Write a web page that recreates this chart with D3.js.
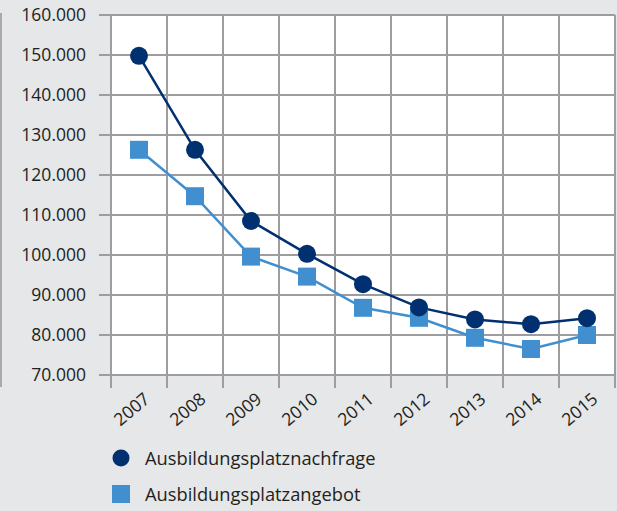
<!DOCTYPE html>
<html><head><meta charset="utf-8">
<script src="https://cdn.jsdelivr.net/npm/d3@7"></script>
<style>
html,body{margin:0;padding:0;background:#e6e7e9;}
svg{display:block;}
text{font-family:"Open Sans",sans-serif;fill:#231f20;}
</style></head>
<body>
<svg id="chart" width="617" height="511"></svg>
<script>
const years = ["2007","2008","2009","2010","2011","2012","2013","2014","2015"];
const nachfrage = [149800, 126300, 108500, 100300, 92700, 86900, 83900, 82700, 84200];
const angebot = [126300, 114700, 99600, 94600, 86800, 84300, 79300, 76500, 80000];
const yTicks = [70000, 80000, 90000, 100000, 110000, 120000, 130000, 140000, 150000, 160000];
const seriesNames = ["Ausbildungsplatznachfrage", "Ausbildungsplatzangebot"];

const svg = d3.select("#chart");
const pLeft = 111, pRight = 615, pTop = 15, pBottom = 375;
const x = d3.scaleBand().domain(years).range([pLeft, pRight]);
const y = d3.scaleLinear().domain([70000, 160000]).range([pBottom, pTop]);
const fmt = v => d3.format(",")(v).replace(/,/g, ".");
const gridColor = "#9d9d9f";

svg.append("rect").attr("x", pLeft).attr("y", pTop).attr("width", pRight - pLeft).attr("height", pBottom - pTop).attr("fill", "#fff");

// left border line
svg.append("line").attr("x1", 1).attr("x2", 1).attr("y1", 13).attr("y2", 387)
  .attr("stroke", "#a9aaac").attr("stroke-width", 2);

// horizontal grid + ticks
svg.append("g").selectAll("line").data(yTicks).join("line")
  .attr("x1", 99).attr("x2", pRight).attr("y1", d => y(d)).attr("y2", d => y(d))
  .attr("stroke", gridColor).attr("stroke-width", 2);
// vertical grid (band edges) + ticks
const edges = years.map(d => x(d)).concat([pRight]);
svg.append("g").selectAll("line").data(edges).join("line")
  .attr("x1", d => d).attr("x2", d => d).attr("y1", pTop).attr("y2", 388)
  .attr("stroke", gridColor).attr("stroke-width", 2);

// y labels
svg.append("g").selectAll("text").data(yTicks).join("text")
  .attr("x", 86).attr("y", d => y(d)).attr("dy", "0.35em")
  .attr("text-anchor", "end").attr("font-size", 17.5).text(fmt);

// x labels
svg.append("g").selectAll("text").data(years).join("text")
  .attr("text-anchor", "end").attr("font-size", 17.5)
  .attr("transform", d => `translate(${x(d) + x.bandwidth()/2 + 12},${401}) rotate(-40)`)
  .text(d => d);

const cx = d => x(d) + x.bandwidth()/2;
const dark = "#003070", light = "#418fcf";
const line = d3.line().x((d,i) => cx(years[i])).y(d => y(d));

svg.append("path").datum(angebot).attr("d", line).attr("fill", "none").attr("stroke", light).attr("stroke-width", 2.5);
svg.append("path").datum(nachfrage).attr("d", line).attr("fill", "none").attr("stroke", dark).attr("stroke-width", 2.5);

svg.append("g").selectAll("rect").data(angebot).join("rect")
  .attr("x", (d,i) => cx(years[i]) - 9).attr("y", d => y(d) - 9)
  .attr("width", 18).attr("height", 18).attr("fill", light);
svg.append("g").selectAll("circle").data(nachfrage).join("circle")
  .attr("cx", (d,i) => cx(years[i])).attr("cy", d => y(d)).attr("r", 9).attr("fill", dark);

// legend
const lg = svg.append("g");
lg.append("circle").attr("cx", 121).attr("cy", 458).attr("r", 8.5).attr("fill", dark);
lg.append("text").attr("x", 145).attr("y", 465).attr("font-size", 18.3).text(seriesNames[0]);
lg.append("rect").attr("x", 112).attr("y", 485).attr("width", 18).attr("height", 18).attr("fill", light);
lg.append("text").attr("x", 145).attr("y", 501).attr("font-size", 18.3).text(seriesNames[1]);
</script>
</body></html>
